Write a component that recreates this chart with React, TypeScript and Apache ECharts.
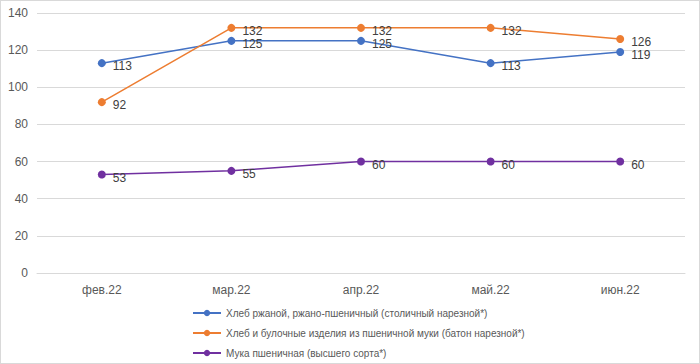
import React, { useEffect, useRef } from "react";
import * as echarts from "echarts";

const categories = ["фев.22", "мар.22", "апр.22", "май.22", "июн.22"];
const seriesNames = [
  "Хлеб ржаной, ржано-пшеничный (столичный нарезной*)",
  "Хлеб и булочные изделия из пшеничной муки (батон нарезной*)",
  "Мука пшеничная (высшего сорта*)",
];
const ryeBread = [113, 125, 125, 113, 119];
const wheatBread = [92, 132, 132, 132, 126];
const flour = [53, 55, 60, 60, 60];
const colors = ["#4472C4", "#ED7D31", "#7030A0"];
const yTicks = { min: 0, max: 140, interval: 20 };

const FONT = "'Liberation Sans', Arial, sans-serif";

export default function App() {
  const ref = useRef<HTMLDivElement>(null);
  useEffect(() => {
    document.body.style.margin = "0";
    const chart = echarts.init(ref.current!, undefined, { renderer: "svg" });
    const datasets = [ryeBread, wheatBread, flour];
    chart.setOption({
      animation: false,
      textStyle: { fontFamily: FONT },
      grid: { left: 36, right: 14, top: 12, bottom: 90 },
      legend: {
        orient: "vertical",
        left: 186,
        top: 302,
        itemGap: 10,
        itemWidth: 28,
        itemHeight: 8,
        textStyle: { color: "#595959", fontSize: 10, fontFamily: FONT },
        data: seriesNames,
      },
      xAxis: {
        type: "category",
        data: categories,
        boundaryGap: true,
        axisLine: { lineStyle: { color: "#d9d9d9" } },
        axisTick: { show: false },
        axisLabel: { color: "#595959", fontSize: 12, margin: 11 },
      },
      yAxis: {
        type: "value",
        min: yTicks.min,
        max: yTicks.max,
        interval: yTicks.interval,
        axisLine: { show: false },
        axisTick: { show: false },
        splitLine: { lineStyle: { color: "#d9d9d9" } },
        axisLabel: { color: "#595959", fontSize: 12, margin: 9 },
      },
      series: datasets.map((d, i) => ({
        name: seriesNames[i],
        type: "line",
        data: d,
        color: colors[i],
        symbol: "circle",
        symbolSize: 8,
        lineStyle: { width: 1.5, color: colors[i] },
        itemStyle: { color: colors[i] },
        label: {
          show: true,
          position: "right",
          offset: [1, 3],
          distance: 6,
          color: "#404040",
          fontSize: 12,
          fontFamily: FONT,
        },
      })),
    });
    return () => chart.dispose();
  }, []);
  return (
    <div
      ref={ref}
      style={{ width: 700, height: 364, boxSizing: "border-box", border: "1px solid #d9d9d9", background: "#fff" }}
    />
  );
}
